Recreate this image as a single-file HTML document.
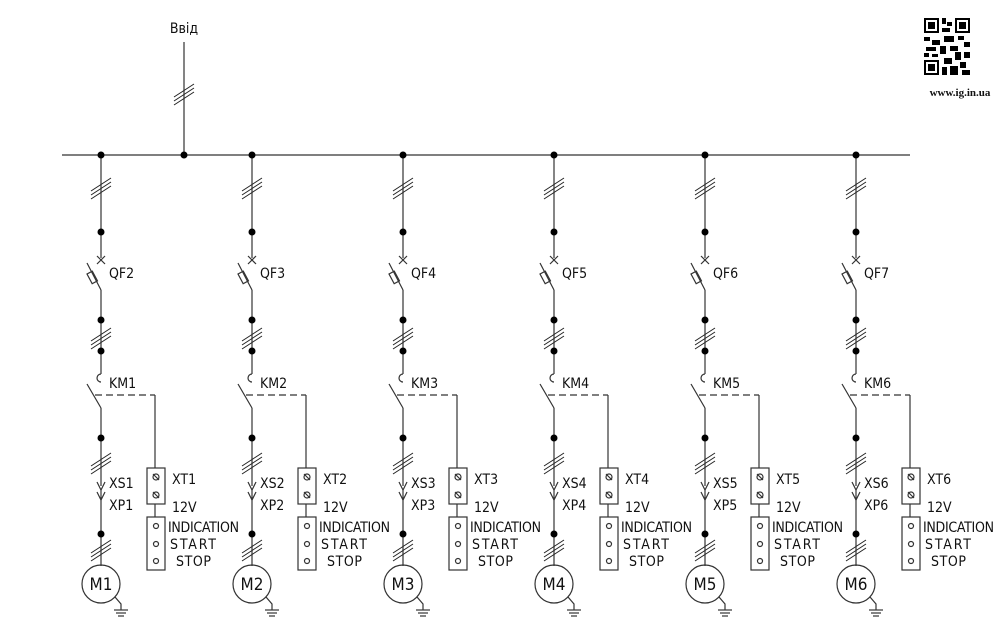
<!DOCTYPE html>
<html><head><meta charset="utf-8"><style>
html,body{margin:0;padding:0;background:#fff;width:1000px;height:635px;overflow:hidden}
text{font-family:"DejaVu Sans Condensed","DejaVu Sans","Liberation Sans",sans-serif;font-size:14px;fill:#111}
</style></head><body>
<svg width="1000" height="635" viewBox="0 0 1000 635" xmlns="http://www.w3.org/2000/svg">
<defs>
<g id="sl" stroke="#222" stroke-width="1" fill="none">
<line x1="-10" y1="5" x2="10" y2="-8"/><line x1="-10" y1="9" x2="10" y2="-4"/><line x1="-10" y1="13" x2="10" y2="0"/>
</g>
<g id="col" stroke="#333" stroke-width="1.2" fill="none">
<line x1="0" y1="155" x2="0" y2="258"/>
<use href="#sl" y="186"/>
<line x1="-4" y1="256" x2="4" y2="264"/><line x1="4" y1="256" x2="-4" y2="264"/>
<line x1="-14" y1="263" x2="0" y2="290"/>
<rect x="-12" y="272" width="6" height="11" transform="rotate(-28 -9 277)"/>
<line x1="0" y1="290" x2="0" y2="374"/>
<use href="#sl" y="336"/>
<path d="M0 374 A4 4 0 0 0 0 382"/>
<line x1="-14" y1="384" x2="0" y2="408"/>
<line x1="-6" y1="395" x2="54" y2="395" stroke-dasharray="7,4"/>
<line x1="54" y1="395" x2="54" y2="468"/>
<line x1="0" y1="408" x2="0" y2="486"/>
<use href="#sl" y="461"/>
<path d="M-4 482 L0 490 L4 482"/>
<path d="M-4 492 L0 500 L4 492"/>
<line x1="0" y1="490" x2="0" y2="566"/>
<use href="#sl" y="548"/>
<circle cx="0" cy="584" r="19"/>
<path d="M14 597 L20 604 L20 610"/>
<line x1="13" y1="610" x2="27" y2="610"/><line x1="15" y1="613" x2="25" y2="613"/><line x1="17" y1="616" x2="23" y2="616"/>
<rect x="46" y="468" width="18" height="36"/>
<circle cx="55" cy="477" r="3"/><line x1="52" y1="474" x2="58" y2="480"/>
<circle cx="55" cy="495" r="3"/><line x1="52" y1="492" x2="58" y2="498"/>
<line x1="54" y1="504" x2="54" y2="517"/>
<rect x="46" y="517" width="18" height="53"/>
<circle cx="55" cy="526" r="2.5"/><circle cx="55" cy="544" r="2.5"/><circle cx="55" cy="561" r="2.5"/>
<g fill="#000" stroke="none">
<circle cx="0" cy="155" r="3.5"/><circle cx="0" cy="232" r="3.5"/><circle cx="0" cy="320" r="3.5"/><circle cx="0" cy="351" r="3.5"/><circle cx="0" cy="438" r="3.5"/><circle cx="0" cy="534" r="3.5"/>
</g>
</g>
</defs>
<line x1="62" y1="155" x2="910" y2="155" stroke="#333" stroke-width="1.2"/>
<line x1="184" y1="42" x2="184" y2="155" stroke="#333" stroke-width="1.2"/>
<use href="#sl" x="184" y="92"/>
<circle cx="184" cy="155" r="3.5"/>
<text x="184" y="33" text-anchor="middle">Ввід</text>
<use href="#col" x="101"/><use href="#col" x="252"/><use href="#col" x="403"/><use href="#col" x="554"/><use href="#col" x="705"/><use href="#col" x="856"/>
<g>
<text x="109" y="278">QF2</text><text x="109" y="388">KM1</text><text x="109" y="488">XS1</text><text x="109" y="510">XP1</text><text x="172" y="484">XT1</text><text x="172" y="512">12V</text><text x="168" y="532" textLength="71">INDICATION</text><text x="170" y="549" textLength="46">START</text><text x="176" y="566" textLength="35">STOP</text><text x="101" y="590" text-anchor="middle" style="font-size:17px">M1</text>
<text x="260" y="278">QF3</text><text x="260" y="388">KM2</text><text x="260" y="488">XS2</text><text x="260" y="510">XP2</text><text x="323" y="484">XT2</text><text x="323" y="512">12V</text><text x="319" y="532" textLength="71">INDICATION</text><text x="321" y="549" textLength="46">START</text><text x="327" y="566" textLength="35">STOP</text><text x="252" y="590" text-anchor="middle" style="font-size:17px">M2</text>
<text x="411" y="278">QF4</text><text x="411" y="388">KM3</text><text x="411" y="488">XS3</text><text x="411" y="510">XP3</text><text x="474" y="484">XT3</text><text x="474" y="512">12V</text><text x="470" y="532" textLength="71">INDICATION</text><text x="472" y="549" textLength="46">START</text><text x="478" y="566" textLength="35">STOP</text><text x="403" y="590" text-anchor="middle" style="font-size:17px">M3</text>
<text x="562" y="278">QF5</text><text x="562" y="388">KM4</text><text x="562" y="488">XS4</text><text x="562" y="510">XP4</text><text x="625" y="484">XT4</text><text x="625" y="512">12V</text><text x="621" y="532" textLength="71">INDICATION</text><text x="623" y="549" textLength="46">START</text><text x="629" y="566" textLength="35">STOP</text><text x="554" y="590" text-anchor="middle" style="font-size:17px">M4</text>
<text x="713" y="278">QF6</text><text x="713" y="388">KM5</text><text x="713" y="488">XS5</text><text x="713" y="510">XP5</text><text x="776" y="484">XT5</text><text x="776" y="512">12V</text><text x="772" y="532" textLength="71">INDICATION</text><text x="774" y="549" textLength="46">START</text><text x="780" y="566" textLength="35">STOP</text><text x="705" y="590" text-anchor="middle" style="font-size:17px">M5</text>
<text x="864" y="278">QF7</text><text x="864" y="388">KM6</text><text x="864" y="488">XS6</text><text x="864" y="510">XP6</text><text x="927" y="484">XT6</text><text x="927" y="512">12V</text><text x="923" y="532" textLength="71">INDICATION</text><text x="925" y="549" textLength="46">START</text><text x="931" y="566" textLength="35">STOP</text><text x="856" y="590" text-anchor="middle" style="font-size:17px">M6</text>
</g>
<g fill="#000">
<rect x="924" y="18" width="15" height="15"/><rect x="926" y="20" width="11" height="11" fill="#fff"/><rect x="928" y="22" width="7" height="7"/>
<rect x="955" y="18" width="15" height="15"/><rect x="957" y="20" width="11" height="11" fill="#fff"/><rect x="959" y="22" width="7" height="7"/>
<rect x="924" y="60" width="15" height="15"/><rect x="926" y="62" width="11" height="11" fill="#fff"/><rect x="928" y="64" width="7" height="7"/>
<rect x="942" y="18" width="4" height="6"/><rect x="947" y="22" width="5" height="4"/><rect x="942" y="28" width="8" height="4"/>
<rect x="924" y="37" width="6" height="4"/><rect x="932" y="40" width="8" height="5"/><rect x="944" y="36" width="10" height="6"/><rect x="958" y="36" width="6" height="4"/><rect x="964" y="42" width="6" height="5"/>
<rect x="926" y="47" width="10" height="4"/><rect x="940" y="46" width="6" height="8"/><rect x="950" y="46" width="8" height="5"/><rect x="924" y="53" width="5" height="4"/><rect x="932" y="54" width="6" height="3"/>
<rect x="944" y="58" width="8" height="6"/><rect x="955" y="52" width="6" height="8"/><rect x="964" y="52" width="6" height="6"/><rect x="942" y="67" width="5" height="8"/><rect x="950" y="66" width="8" height="9"/><rect x="960" y="62" width="6" height="6"/><rect x="962" y="70" width="8" height="5"/>
</g>
<text x="960" y="96" text-anchor="middle" style="font-family:'Liberation Serif',serif;font-size:11px;font-weight:bold">www.ig.in.ua</text>
</svg>
</body></html>
